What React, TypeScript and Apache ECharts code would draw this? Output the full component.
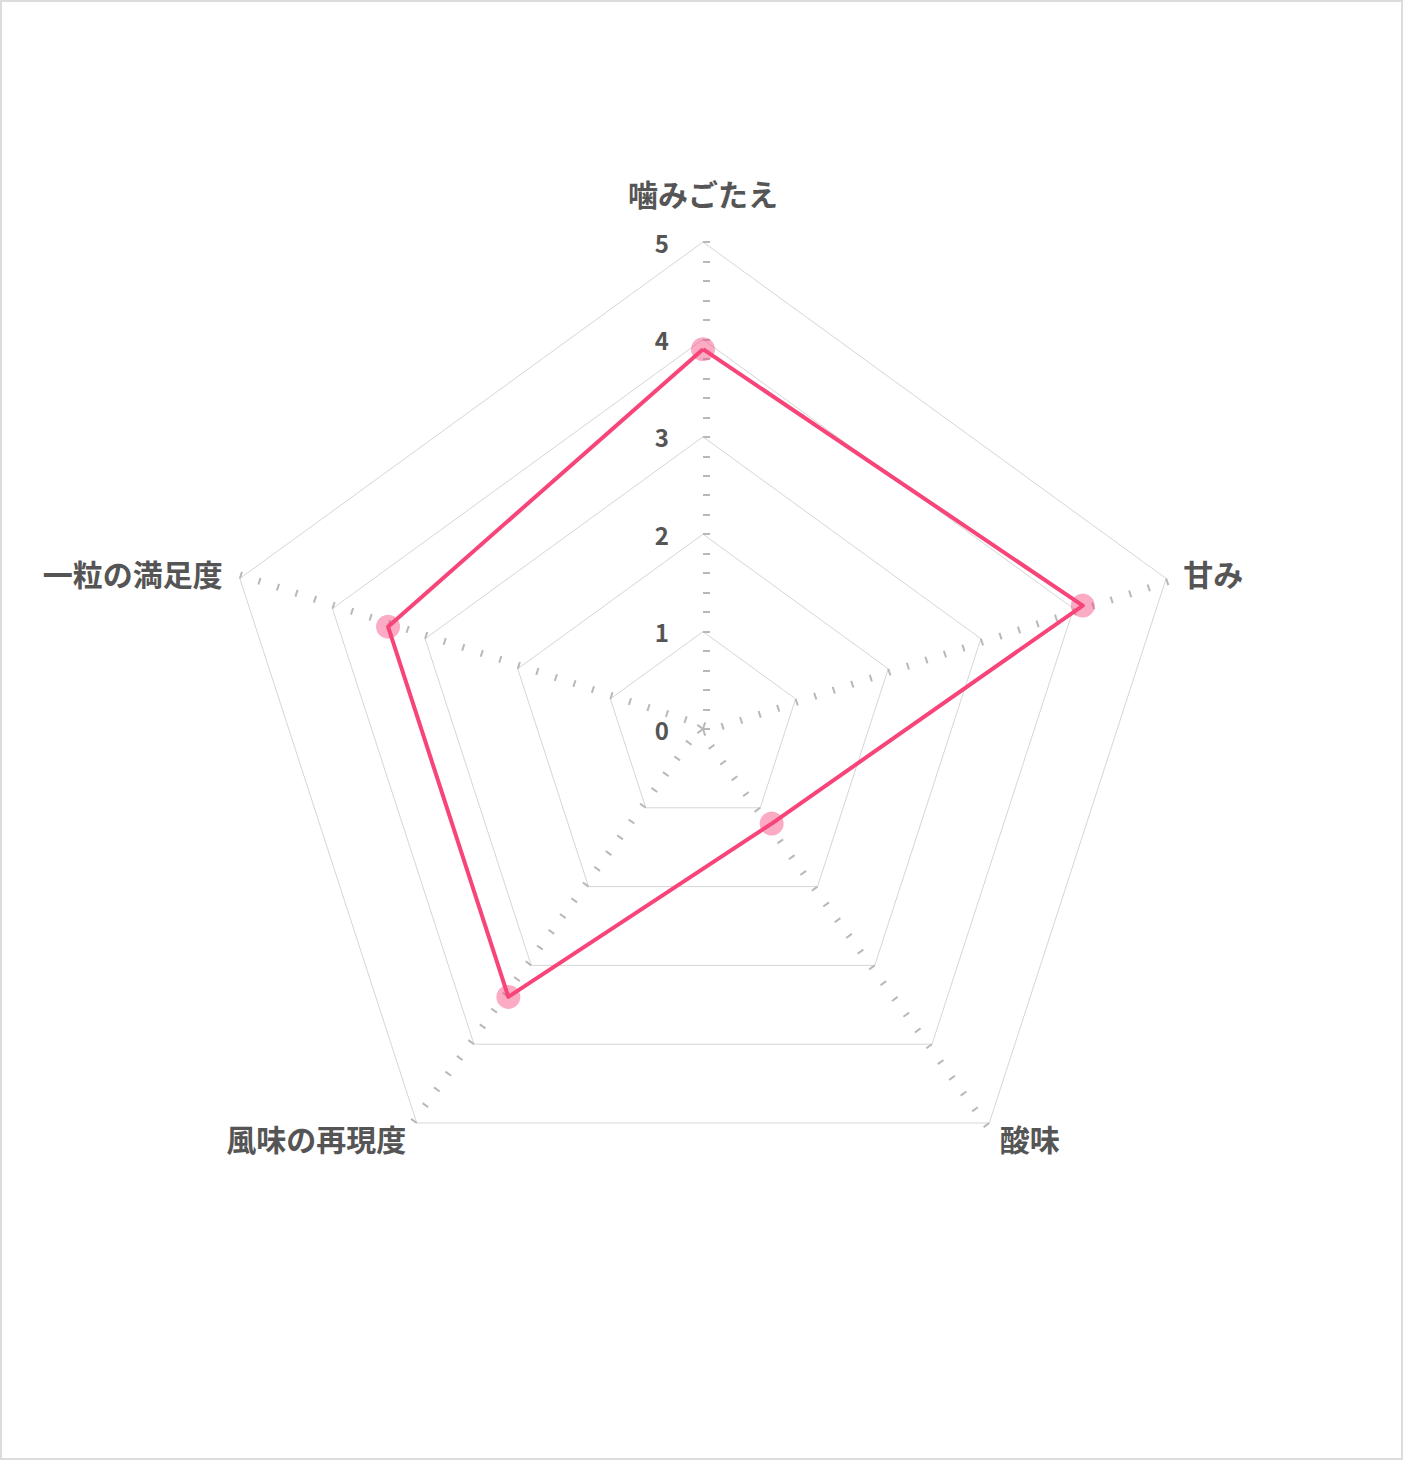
import { useEffect, useRef } from 'react';
import * as echarts from 'echarts';

// ECharts lays indicators out counter-clockwise from the top,
// so this order puts 甘み on the upper right like the original.
const indicatorNames = ['噛みごたえ', '一粒の満足度', '風味の再現度', '酸味', '甘み'];
const scores = [3.9, 3.4, 3.4, 1.2, 4.1];
const maxValue = 5;
const tickStep = 0.2;

const center = [703, 729];
const radius = 487;

function App() {
  const chartRef = useRef<HTMLDivElement>(null);

  useEffect(() => {
    document.body.style.margin = '0';
    if (!chartRef.current) return;
    const chart = echarts.init(chartRef.current, null, { renderer: 'svg' });

    const font = '"Noto Sans CJK JP", "Noto Sans", sans-serif';

    chart.setOption({
      animation: false,
      backgroundColor: '#fff',
      radar: [
        {
          center,
          radius,
          startAngle: 90,
          splitNumber: 5,
          shape: 'polygon',
          nameGap: 18,
          axisName: {
            color: '#555',
            fontSize: 30,
            fontWeight: 'bold',
            fontFamily: font,
            formatter: (name: string) => (name === indicatorNames[0] ? `{t|${name}}` : name),
            rich: {
              t: {
                color: '#555',
                fontSize: 30,
                fontWeight: 'bold',
                fontFamily: font,
                padding: [0, 0, 16, 0],
              },
            },
          },
          indicator: indicatorNames.map((name, i) => ({
            name,
            min: 0,
            max: maxValue,
            axisLabel: { show: i === 0 },
          })),
          axisLine: { show: false },
          axisTick: { show: false },
          axisLabel: {
            show: true,
            color: '#555',
            fontSize: 24,
            fontWeight: 'bold',
            margin: 34,
            fontFamily: font,
          },
          splitLine: { lineStyle: { color: '#d6d6d6', width: 1 } },
          splitArea: { show: false },
        },
        {
          // only used to draw the small ticks every 0.2
          center,
          radius,
          startAngle: 90,
          splitNumber: maxValue / tickStep,
          shape: 'polygon',
          indicator: indicatorNames.map(() => ({ name: '', min: 0, max: maxValue })),
          axisName: { show: false },
          axisLine: { show: false },
          axisLabel: { show: false },
          axisTick: {
            show: true,
            length: -7,
            lineStyle: { color: '#b8b8b8', width: 2 },
          },
          splitLine: { show: false },
          splitArea: { show: false },
        },
      ],
      series: [
        {
          type: 'radar',
          radarIndex: 0,
          symbol: 'circle',
          symbolSize: 24,
          lineStyle: { color: '#f7457a', width: 4 },
          itemStyle: { color: 'rgba(247, 69, 122, 0.45)' },
          data: [{ value: scores, name: '評価' }],
        },
      ],
    });

    return () => chart.dispose();
  }, []);

  return (
    <div
      style={{
        width: 1403,
        height: 1460,
        boxSizing: 'border-box',
        border: '2px solid #dcdcdc',
        background: '#fff',
        overflow: 'hidden',
      }}
    >
      <div ref={chartRef} style={{ width: 1403, height: 1460, marginLeft: -2, marginTop: -2 }} />
    </div>
  );
}

export default App;
